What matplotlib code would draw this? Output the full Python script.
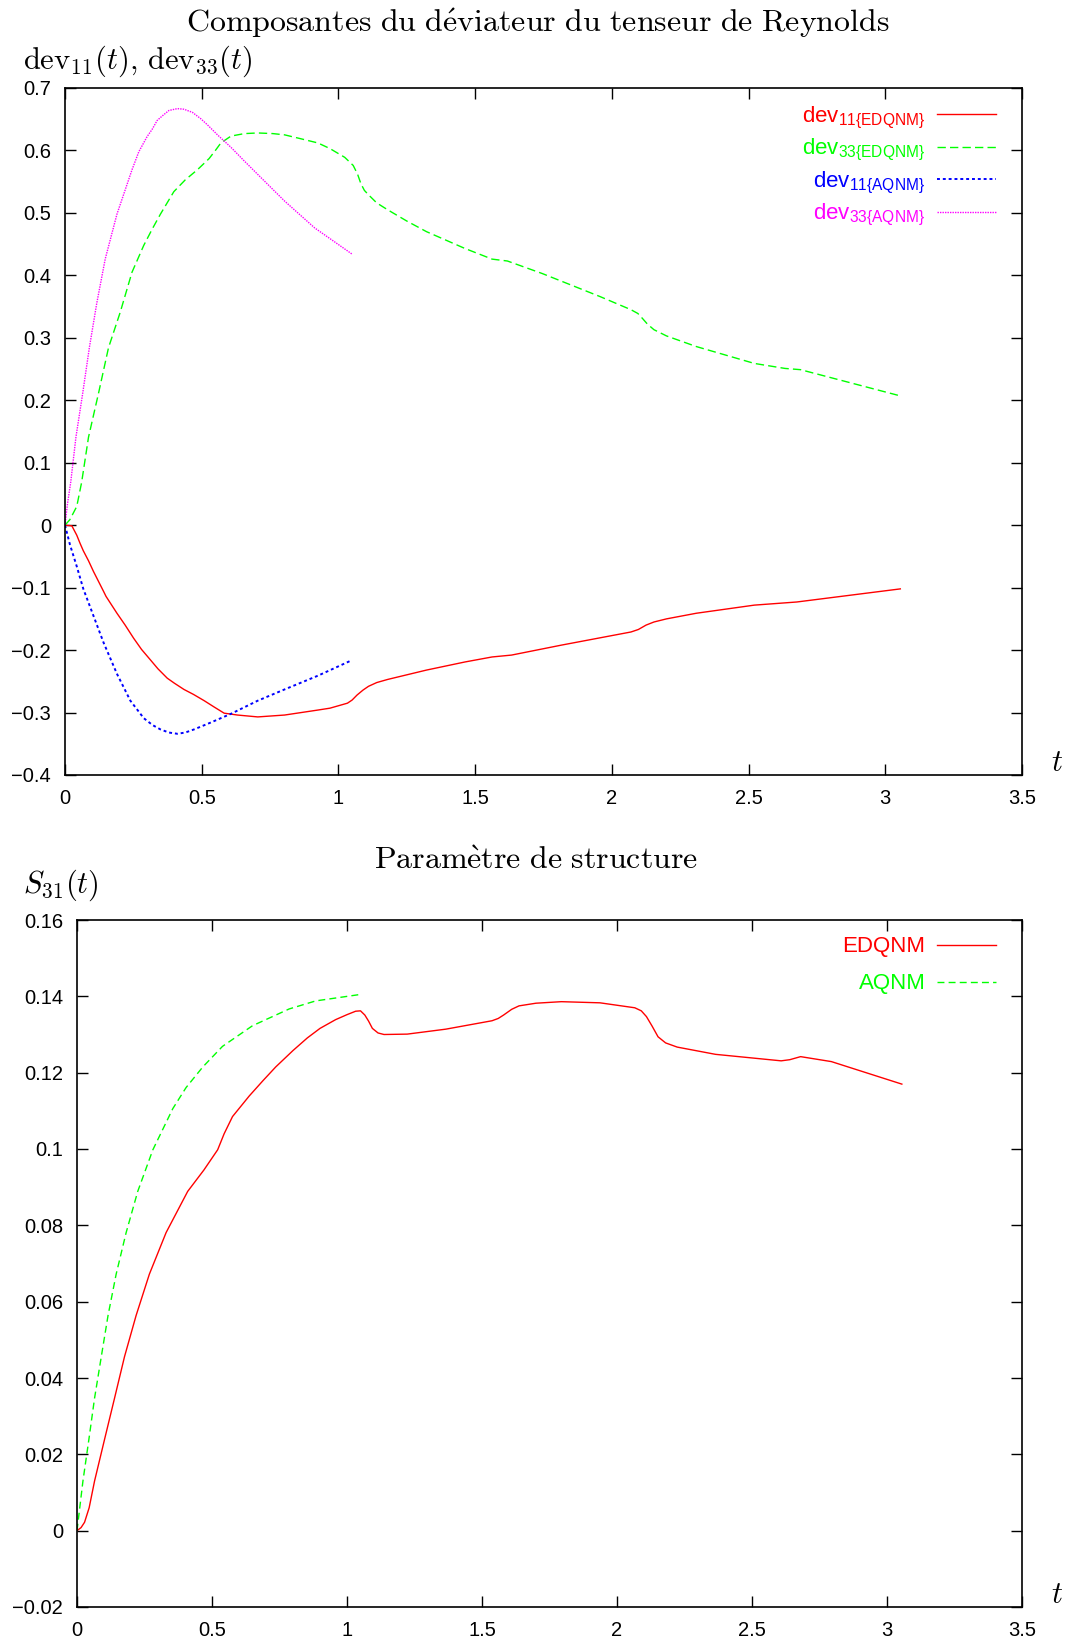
import matplotlib
matplotlib.use("Agg")
import matplotlib.pyplot as plt

# ---- data ----
t_dev11_edqnm = [0, 0.025, 0.043, 0.055, 0.067, 0.086, 0.104, 0.141, 0.150, 0.190, 0.220, 0.251, 0.280,
                 0.313, 0.340, 0.374, 0.400, 0.435, 0.470, 0.509, 0.545, 0.582, 0.631, 0.705, 0.803,
                 0.925, 0.969, 1.033, 1.050, 1.068, 1.090, 1.110, 1.140, 1.180, 1.322, 1.463, 1.562,
                 1.633, 1.816, 2.070, 2.097, 2.125, 2.154, 2.200, 2.309, 2.521, 2.676, 3.055]
dev11_edqnm = [0, -0.001, -0.016, -0.029, -0.041, -0.057, -0.074, -0.106, -0.114, -0.141, -0.160, -0.181, -0.199,
               -0.216, -0.230, -0.245, -0.253, -0.263, -0.271, -0.281, -0.291, -0.301, -0.304, -0.307, -0.304,
               -0.296, -0.293, -0.285, -0.280, -0.272, -0.264, -0.258, -0.252, -0.247, -0.232, -0.219, -0.211,
               -0.208, -0.192, -0.171, -0.167, -0.160, -0.155, -0.150, -0.141, -0.128, -0.123, -0.102]

t_dev33_edqnm = [0, 0.018, 0.043, 0.061, 0.086, 0.123, 0.159, 0.202, 0.245, 0.288, 0.320, 0.349, 0.398,
                 0.440, 0.484, 0.527, 0.550, 0.570, 0.607, 0.656, 0.705, 0.760, 0.803, 0.860, 0.925,
                 0.969, 1.023, 1.054, 1.070, 1.082, 1.095, 1.110, 1.140, 1.180, 1.250, 1.322, 1.463,
                 1.562, 1.618, 1.745, 1.957, 2.070, 2.095, 2.112, 2.130, 2.154, 2.200, 2.309, 2.521,
                 2.633, 2.690, 3.055]
dev33_edqnm = [0, 0.009, 0.030, 0.069, 0.141, 0.212, 0.284, 0.341, 0.405, 0.448, 0.475, 0.498, 0.534,
               0.553, 0.569, 0.587, 0.600, 0.612, 0.623, 0.627, 0.628, 0.627, 0.625, 0.619, 0.612,
               0.603, 0.589, 0.576, 0.562, 0.547, 0.536, 0.529, 0.516, 0.505, 0.487, 0.470, 0.443,
               0.426, 0.423, 0.403, 0.366, 0.345, 0.339, 0.331, 0.322, 0.313, 0.303, 0.286, 0.259,
               0.251, 0.249, 0.207]

t_dev11_aqnm = [0, 0.018, 0.043, 0.067, 0.104, 0.141, 0.190, 0.239, 0.288, 0.320, 0.349, 0.380, 0.411,
                0.440, 0.472, 0.533, 0.607, 0.705, 0.803, 0.925, 1.050]
dev11_aqnm = [0, -0.031, -0.066, -0.102, -0.145, -0.188, -0.238, -0.281, -0.309, -0.320, -0.327, -0.332, -0.334,
              -0.332, -0.327, -0.316, -0.302, -0.281, -0.263, -0.241, -0.216]

t_dev33_aqnm = [0, 0.009, 0.021, 0.040, 0.065, 0.089, 0.116, 0.147, 0.190, 0.245, 0.270, 0.300, 0.319,
                0.337, 0.355, 0.380, 0.411, 0.435, 0.466, 0.496, 0.521, 0.560, 0.607, 0.656, 0.711,
                0.803, 0.913, 1.050]
dev33_aqnm = [0, 0.034, 0.069, 0.141, 0.212, 0.284, 0.355, 0.426, 0.498, 0.569, 0.598, 0.622, 0.634,
              0.648, 0.655, 0.664, 0.667, 0.666, 0.661, 0.651, 0.641, 0.624, 0.605, 0.583, 0.559,
              0.519, 0.476, 0.434]

t_s31_edqnm = [0, 0.015, 0.028, 0.045, 0.065, 0.102, 0.139, 0.176, 0.219, 0.268, 0.330, 0.410, 0.470,
               0.521, 0.545, 0.576, 0.638, 0.690, 0.736, 0.800, 0.853, 0.900, 0.958, 1.000, 1.032,
               1.050, 1.066, 1.080, 1.094, 1.115, 1.137, 1.223, 1.366, 1.537, 1.560, 1.580, 1.610,
               1.637, 1.700, 1.794, 1.937, 2.066, 2.090, 2.109, 2.130, 2.152, 2.180, 2.223, 2.365,
               2.608, 2.640, 2.680, 2.794, 3.055]
s31_edqnm = [0, 0.0008, 0.0022, 0.0060, 0.0130, 0.0239, 0.0347, 0.0456, 0.0564, 0.0672, 0.0781, 0.0889, 0.0945,
             0.0998, 0.1040, 0.1085, 0.1139, 0.1180, 0.1215, 0.1258, 0.1291, 0.1316, 0.1339, 0.1352, 0.1361,
             0.1362, 0.1351, 0.1335, 0.1316, 0.1304, 0.1300, 0.1301, 0.1314, 0.1336, 0.1342, 0.1351, 0.1366,
             0.1375, 0.1382, 0.1386, 0.1383, 0.1370, 0.1362, 0.1347, 0.1322, 0.1294, 0.1278, 0.1267, 0.1248,
             0.1231, 0.1234, 0.1242, 0.1229, 0.1170]

t_s31_aqnm = [0, 0.022, 0.044, 0.065, 0.090, 0.115, 0.145, 0.182, 0.225, 0.281, 0.355, 0.404, 0.466,
              0.539, 0.650, 0.786, 0.884, 1.050]
s31_aqnm = [0, 0.0130, 0.0239, 0.0347, 0.0456, 0.0564, 0.0672, 0.0781, 0.0889, 0.0998, 0.1106, 0.1161, 0.1215,
            0.1269, 0.1323, 0.1367, 0.1388, 0.1405]

xticks = [0, 0.5, 1, 1.5, 2, 2.5, 3, 3.5]
xticklabels = ["0", "0.5", "1", "1.5", "2", "2.5", "3", "3.5"]
yticks_top = [-0.4, -0.3, -0.2, -0.1, 0, 0.1, 0.2, 0.3, 0.4, 0.5, 0.6, 0.7]
yticklabels_top = ["\u22120.4", "\u22120.3", "\u22120.2", "\u22120.1", "0", "0.1", "0.2", "0.3",
                   "0.4", "0.5", "0.6", "0.7"]
yticks_bot = [-0.02, 0, 0.02, 0.04, 0.06, 0.08, 0.1, 0.12, 0.14, 0.16]
yticklabels_bot = ["\u22120.02", "0", "0.02", "0.04", "0.06", "0.08", "0.1", "0.12", "0.14", "0.16"]

# ---- style ----
plt.rcParams['font.family'] = ['Liberation Sans', 'DejaVu Sans']
plt.rcParams['mathtext.fontset'] = 'custom'
plt.rcParams['mathtext.rm'] = 'Liberation Sans'
plt.rcParams['mathtext.it'] = 'Liberation Sans:italic'
plt.rcParams['mathtext.bf'] = 'Liberation Sans:bold'

W, H = 1068, 1639
fig = plt.figure(figsize=(W / 100, H / 100), dpi=100)
ax1 = fig.add_axes([65 / W, 1 - 775 / H, (1022 - 65) / W, (775 - 88) / H])
ax2 = fig.add_axes([77 / W, 1 - 1607 / H, (1022 - 77) / W, (1607 - 920) / H])

lw = 1.0
ax1.plot(t_dev11_edqnm, dev11_edqnm, color='#ff0000', lw=lw, label=r"dev$_\mathrm{11\{EDQNM\}}$")
ax1.plot(t_dev33_edqnm, dev33_edqnm, color='#00ff00', lw=lw, dashes=(6, 3), label=r"dev$_\mathrm{33\{EDQNM\}}$")
ax1.plot(t_dev11_aqnm, dev11_aqnm, color='#0000ff', lw=1.4, dashes=(1.5, 1.5), label=r"dev$_\mathrm{11\{AQNM\}}$")
ax1.plot(t_dev33_aqnm, dev33_aqnm, color='#ff00ff', lw=lw, dashes=(1, 0.8), label=r"dev$_\mathrm{33\{AQNM\}}$")

ax2.plot(t_s31_edqnm, s31_edqnm, color='#ff0000', lw=lw, label="EDQNM")
ax2.plot(t_s31_aqnm, s31_aqnm, color='#00ff00', lw=lw, dashes=(5, 3), label="AQNM")

fs = 14.5
lfs = 16
for ax, yt, ytl, ylim, lsp in [(ax1, yticks_top, yticklabels_top, (-0.4, 0.7), 0.29),
                               (ax2, yticks_bot, yticklabels_bot, (-0.02, 0.16), 0.72)]:
    ax.set_xlim(0, 3.5)
    ax.set_ylim(*ylim)
    ax.set_xticks(xticks)
    ax.set_xticklabels(xticklabels, fontsize=fs)
    ax.set_yticks(yt)
    ax.set_yticklabels(ytl, fontsize=fs)
    ax.tick_params(direction='in', top=True, right=True, length=8, width=1.0)
    ax.tick_params(axis='x', pad=10)
    ax.tick_params(axis='y', pad=10)
    for s in ax.spines.values():
        s.set_linewidth(1.2)
    leg = ax.legend(loc='upper right', bbox_to_anchor=(0.973, 0.976), frameon=False,
                    markerfirst=False, labelcolor='linecolor', fontsize=lfs,
                    handlelength=2.66, handletextpad=0.54, labelspacing=lsp,
                    borderpad=0, borderaxespad=0)
    for txt in leg.get_texts():
        txt.set_ha('right')

# ---- titles and axis labels (TeX look) ----
fig.text(538 / W, 1 - 23 / H, r"$\mathrm{Composantes\ du\ d\'eviateur\ du\ tenseur\ de\ Reynolds}$",
         fontsize=23, ha='center', va='center', math_fontfamily='cm')
fig.text(23 / W, 1 - 61 / H, r"$\mathrm{dev}_{11}(t),\, \mathrm{dev}_{33}(t)$",
         fontsize=22, ha='left', va='center', math_fontfamily='cm')
fig.text(1057 / W, 1 - 763 / H, r"$t$", fontsize=22, ha='center', va='center', math_fontfamily='cm')

fig.text(536 / W, 1 - 861 / H, r"$\mathrm{Param\`etre\ de\ structure}$",
         fontsize=23, ha='center', va='center', math_fontfamily='cm')
fig.text(23 / W, 1 - 885 / H, r"$S_{31}(t)$", fontsize=22, ha='left', va='center', math_fontfamily='cm')
fig.text(1057 / W, 1 - 1595 / H, r"$t$", fontsize=22, ha='center', va='center', math_fontfamily='cm')

fig.savefig("out.png", dpi=100)
